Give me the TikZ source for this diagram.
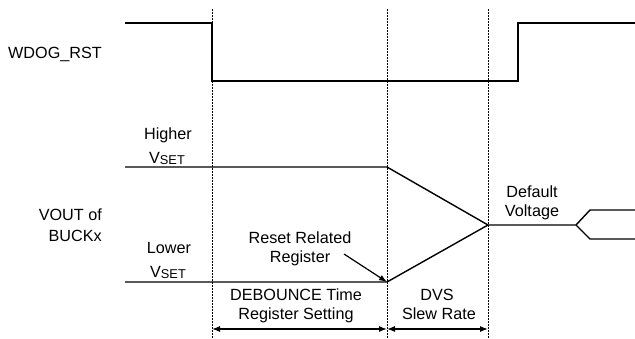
\documentclass[tikz,border=0pt]{standalone}
\usepackage{fontspec}
\setmainfont{Liberation Sans}
\usetikzlibrary{arrows.meta}
\newcommand{\vset}{V\raisebox{-0.22ex}{\fontsize{12.8}{12.8}\selectfont SET}}
\begin{document}
\begin{tikzpicture}[x=1pt,y=-1pt,
  sig/.style={line width=1.4pt,line join=miter},
  guide/.style={line width=0.9pt,dash pattern=on 2pt off 1pt},
  dim/.style={line width=1.2pt,{Latex[length=8pt,width=6pt]}-{Latex[length=8pt,width=6pt]}},
  pointer/.style={line width=1.2pt,-{Latex[length=8pt,width=6pt]}},
  lbl/.style={inner sep=0pt,font=\fontsize{16.2}{19}\selectfont}]
\useasboundingbox (0,0) rectangle (635,338);
% guide lines
\coordinate (g1t) at (212,9); \coordinate (g1b) at (212,338);
\coordinate (g2t) at (387,9); \coordinate (g2b) at (387,338);
\coordinate (g3t) at (488,9); \coordinate (g3b) at (488,338);
\draw[guide] (g1t) -- (g1b);
\draw[guide] (g2t) -- (g2b);
\draw[guide] (g3t) -- (g3b);
% WDOG_RST waveform
\draw[sig] (125,23) -- (212,23) -- (212,81) -- (518,81) -- (518,23) -- (635,23);
% VOUT waveform
\coordinate (hi0) at (125,167); \coordinate (hi1) at (387,167);
\coordinate (lo0) at (125,282); \coordinate (lo1) at (387,282);
\coordinate (def) at (488,225); \coordinate (br) at (576,225);
\draw[sig] (hi0) -- (hi1) -- (def);
\draw[sig] (lo0) -- (lo1) -- (def);
\draw[sig] (def) -- (br) -- (590,210) -- (635,210);
\draw[sig] (br) -- (590,239) -- (635,239);
% labels
\node[lbl,anchor=base west] (wdog) at (8,58) {WDOG\_RST};
\node[lbl,anchor=base] (higher) at (168,139) {Higher};
\node[lbl,anchor=base] (vsethi) at (167,163) {\vset};
\node[lbl,anchor=base east] (vout) at (102,220) {VOUT of};
\node[lbl,anchor=base east] (buck) at (102,241) {BUCKx};
\node[lbl,anchor=base] (lower) at (169,253) {Lower};
\node[lbl,anchor=base] (vsetlo) at (168,277) {\vset};
\node[lbl,anchor=base] (rr1) at (300,243) {Reset Related};
\node[lbl,anchor=base] (rr2) at (300,262) {Register};
\node[lbl,anchor=base] (db1) at (296,300) {DEBOUNCE Time};
\node[lbl,anchor=base] (db2) at (296,319) {Register Setting};
\node[lbl,anchor=base] (dvs1) at (437,300) {DVS};
\node[lbl,anchor=base] (dvs2) at (439,319) {Slew Rate};
\node[lbl,anchor=base] (dv1) at (532,197) {Default};
\node[lbl,anchor=base] (dv2) at (532,216) {Voltage};
% pointer arrow
\coordinate (ps) at (344,254);
\draw[pointer] (ps) -- (lo1);
% dimension arrows
\coordinate (d1) at (212,329); \coordinate (d2) at (387,329); \coordinate (d3) at (488,329);
\draw[dim] (d1) -- (d2);
\draw[dim] (d2) -- (d3);
\end{tikzpicture}
\end{document}
